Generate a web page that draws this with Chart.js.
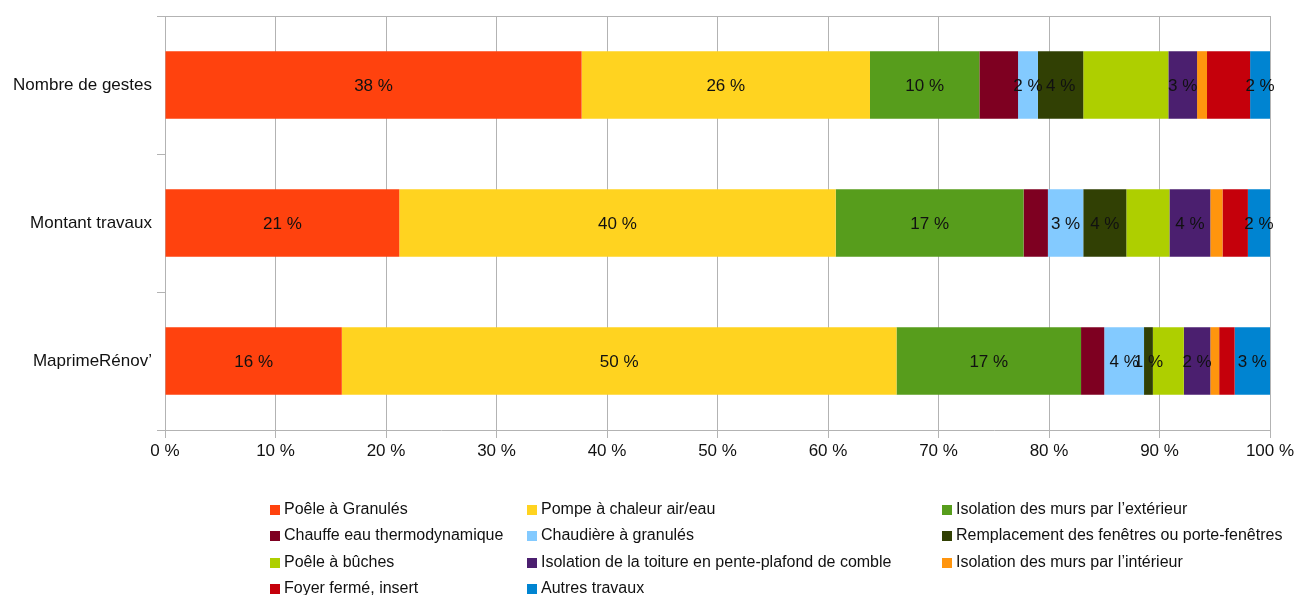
<!DOCTYPE html>
<html lang="fr">
<head>
<meta charset="utf-8">
<script src="https://cdn.jsdelivr.net/npm/chart.js@4.4.0/dist/chart.umd.min.js"></script>
<style>
  body { margin: 0; background: #fff; font-family: "Liberation Sans", Arial, sans-serif; }
  #wrap { position: relative; width: 1295px; height: 595px; overflow: hidden; }
  #box { position: absolute; left: 0; top: 0; width: 1295px; height: 480px; }
  #legend { position: absolute; left: 0; top: 0; width: 1295px; height: 595px; pointer-events: none; }
  .item { position: absolute; font-size: 16px; color: #111; white-space: nowrap; line-height: 18px; }
  .item span { display: inline-block; width: 10px; height: 10px; margin-right: 4px; vertical-align: -1px; }
</style>
</head>
<body>
<div id="wrap">
  <div id="box"><canvas id="chart"></canvas></div>
  <div id="legend"></div>
</div>
<script>
// Categories (rows) and tick labels
const categories = ['Nombre de gestes', 'Montant travaux', 'MaprimeRénov’'];
const xTicks = [0, 10, 20, 30, 40, 50, 60, 70, 80, 90, 100];

// Share of each type of work, in %, per row
const poeleGranules   = [37.7, 21.2, 16.0];
const pompeChaleur    = [26.1, 39.5, 50.2];
const isoMursExt      = [9.9, 17.0, 16.7];
const chauffeEau      = [3.5, 2.2, 2.1];
const chaudiere       = [1.8, 3.2, 3.6];
const fenetres        = [4.1, 3.9, 0.8];
const poeleBuches     = [7.7, 3.9, 2.8];
const isoToiture      = [2.6, 3.7, 2.4];
const isoMursInt      = [0.9, 1.1, 0.8];
const foyerFerme      = [3.9, 2.3, 1.4];
const autresTravaux   = [1.8, 2.0, 3.2];

const series = [
    { name: 'Poêle à Granulés', data: poeleGranules, color: '#ff420e', label: true },
    { name: 'Pompe à chaleur air/eau', data: pompeChaleur, color: '#ffd320', label: true },
    { name: 'Isolation des murs par l’extérieur', data: isoMursExt, color: '#579d1c', label: true },
    { name: 'Chauffe eau thermodynamique', data: chauffeEau, color: '#7e0021', label: false },
    { name: 'Chaudière à granulés', data: chaudiere, color: '#83caff', label: true },
    { name: 'Remplacement des fenêtres ou porte-fenêtres', data: fenetres, color: '#314004', label: true },
    { name: 'Poêle à bûches', data: poeleBuches, color: '#aecf00', label: false },
    { name: 'Isolation de la toiture en pente-plafond de comble', data: isoToiture, color: '#4b1f6f', label: true },
    { name: 'Isolation des murs par l’intérieur', data: isoMursInt, color: '#ff950e', label: false },
    { name: 'Foyer fermé, insert', data: foyerFerme, color: '#c5000b', label: false },
    { name: 'Autres travaux', data: autresTravaux, color: '#0084d1', label: true }
];

const gridColor = '#b3b3b3';
const textColor = '#111';
const fontFamily = '"Liberation Sans", Arial, sans-serif';

// Draw the value labels centred in the segments
const segmentLabels = {
    id: 'segmentLabels',
    afterDatasetsDraw(chart) {
        const ctx = chart.ctx;
        ctx.save();
        ctx.font = '17px ' + fontFamily;
        ctx.fillStyle = textColor;
        ctx.textAlign = 'center';
        ctx.textBaseline = 'middle';
        chart.data.datasets.forEach((ds, i) => {
            if(!series[i].label) return;
            chart.getDatasetMeta(i).data.forEach((bar, j) => {
                const p = bar.getProps(['x', 'y', 'base'], true);
                ctx.fillText(Math.round(ds.data[j]) + ' %', (p.x + p.base) / 2, p.y + 1);
            });
        });
        ctx.restore();
    }
};

new Chart(document.getElementById('chart'), {
    type: 'bar',
    data: {
        labels: categories,
        datasets: series.map(s => ({
            label: s.name,
            data: s.data,
            backgroundColor: s.color,
            borderWidth: 0,
            categoryPercentage: 1,
            barPercentage: 0.49
        }))
    },
    options: {
        indexAxis: 'y',
        responsive: true,
        maintainAspectRatio: false,
        animation: false,
        devicePixelRatio: 1,
        layout: { padding: { top: 16, right: 25 } },
        plugins: {
            legend: { display: false },
            tooltip: { enabled: false }
        },
        scales: {
            x: {
                stacked: true,
                min: 0,
                max: 100,
                afterBuildTicks: scale => { scale.ticks = xTicks.map(v => ({ value: v })); },
                afterFit: scale => {
                    scale.height = 50;
                    scale.paddingLeft = 0;
                    scale.paddingRight = 0;
                },
                grid: { color: gridColor, tickColor: gridColor, tickLength: 8 },
                border: { color: gridColor },
                ticks: {
                    color: textColor,
                    padding: 3,
                    font: { family: fontFamily, size: 17 },
                    callback: v => v + ' %'
                }
            },
            y: {
                stacked: true,
                afterFit: scale => { scale.width = 165; },
                grid: {
                    offset: true,
                    tickLength: 8,
                    tickColor: gridColor,
                    color: c => c.index === 0 ? gridColor : 'transparent'
                },
                border: { color: gridColor },
                ticks: {
                    color: textColor,
                    padding: 5,
                    font: { family: fontFamily, size: 17 }
                }
            }
        }
    },
    plugins: [segmentLabels]
});

// Legend in three columns, filled row by row
const legendDiv = document.getElementById('legend');
const colX = [270, 527, 942];
series.forEach((s, i) => {
    const item = document.createElement('div');
    item.className = 'item';
    item.style.left = colX[i % 3] + 'px';
    item.style.top = (500 + Math.floor(i / 3) * 26.3) + 'px';
    item.innerHTML = `<span style="background:${s.color}"></span>${s.name}`;
    legendDiv.appendChild(item);
});
</script>
</body>
</html>
